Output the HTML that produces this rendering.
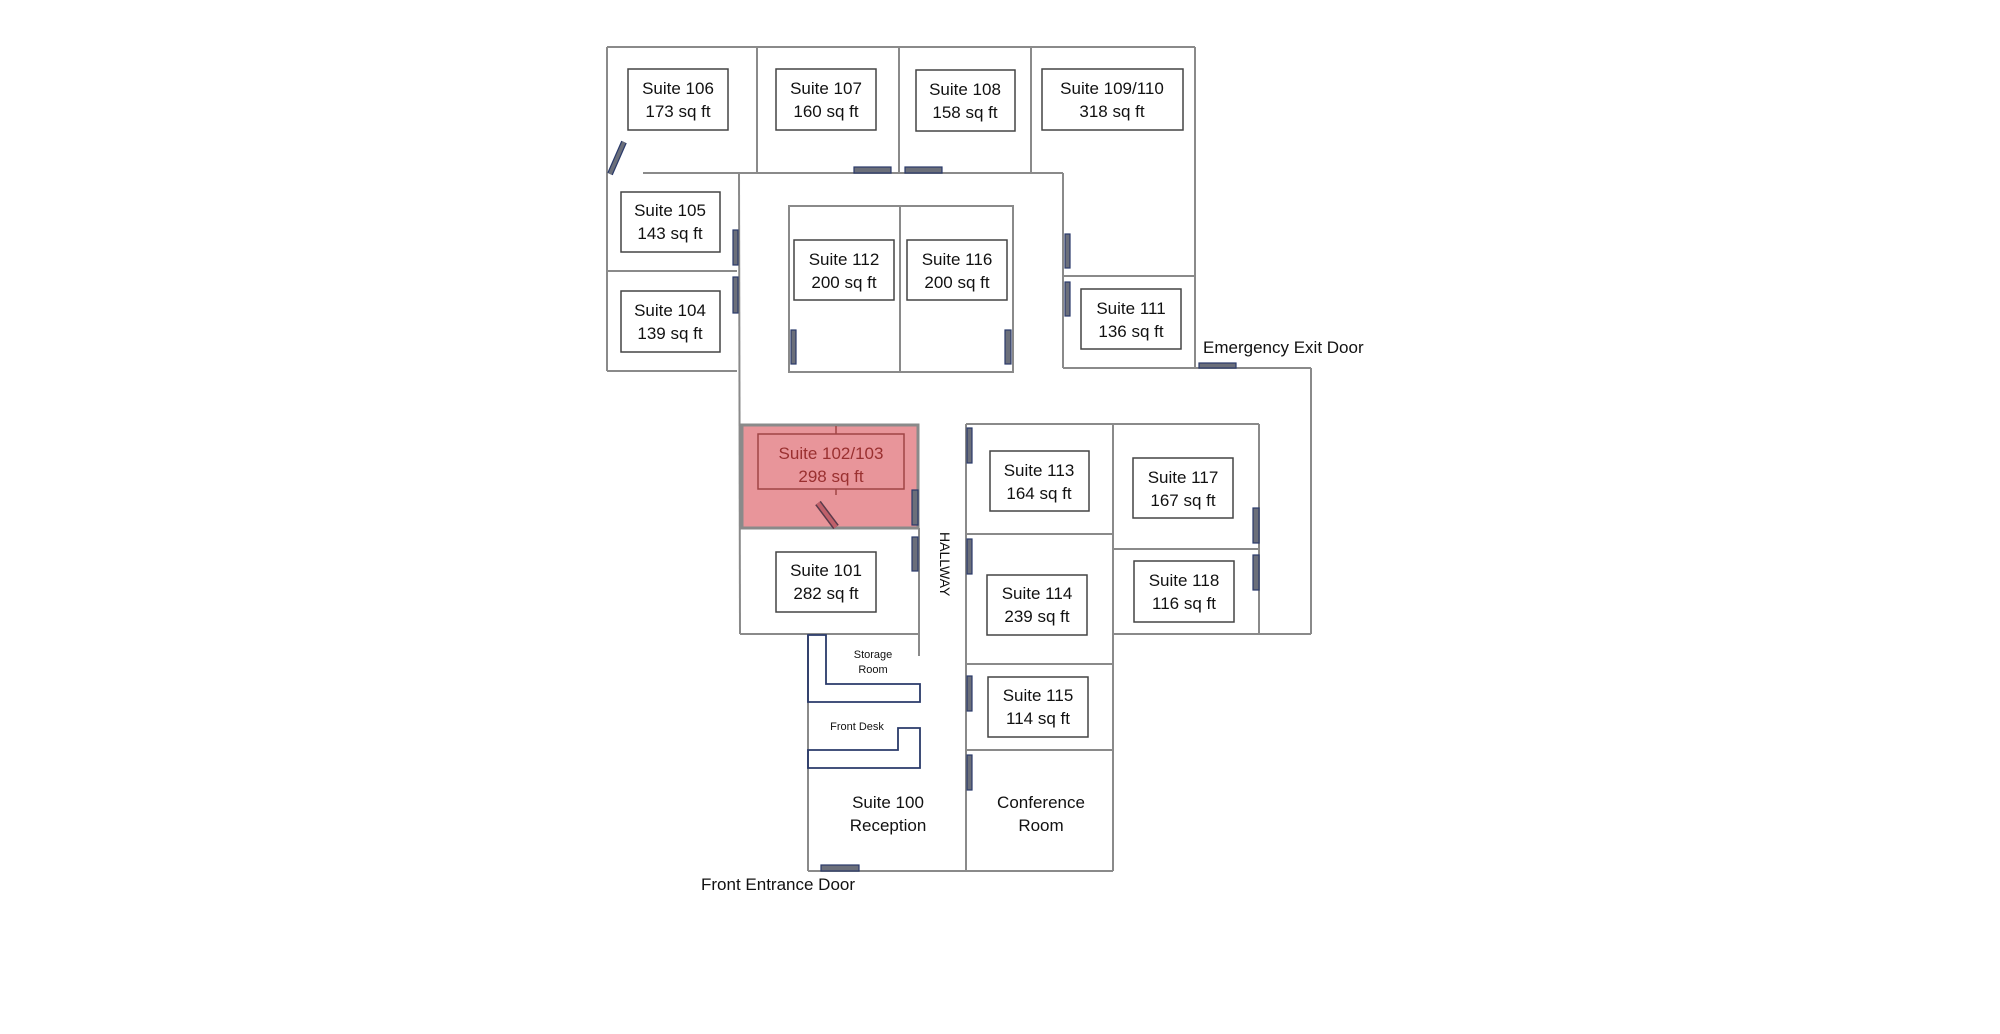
<!DOCTYPE html>
<html><head><meta charset="utf-8"><style>
html,body{margin:0;padding:0;background:#fff;}
svg{display:block}
text{font-family:"Liberation Sans",sans-serif;fill:#111;}
</style></head><body>
<svg width="2000" height="1034" viewBox="0 0 2000 1034" xmlns="http://www.w3.org/2000/svg">
<g stroke="#8a8a8a" stroke-width="2" fill="none">
<line x1="607" y1="47" x2="1195" y2="47"/>
<line x1="607" y1="47" x2="607" y2="371"/>
<line x1="1195" y1="47" x2="1195" y2="368"/>
<line x1="757" y1="47" x2="757" y2="173"/>
<line x1="899" y1="47" x2="899" y2="173"/>
<line x1="1031" y1="47" x2="1031" y2="173"/>
<line x1="643" y1="173" x2="1063" y2="173"/>
<line x1="607" y1="271" x2="737" y2="271"/>
<line x1="607" y1="371" x2="737" y2="371"/>
<line x1="739" y1="173" x2="740" y2="634"/>
<line x1="1063" y1="173" x2="1063" y2="368"/>
<rect x="789" y="206" width="224" height="166"/>
<line x1="900" y1="206" x2="900" y2="372"/>
<line x1="1063" y1="276" x2="1195" y2="276"/>
<line x1="1063" y1="368" x2="1311" y2="368"/>
<line x1="1311" y1="368" x2="1311" y2="634"/>
<line x1="966" y1="424" x2="1259" y2="424"/>
<line x1="1259" y1="424" x2="1259" y2="634"/>
<line x1="1113" y1="424" x2="1113" y2="871"/>
<line x1="1113" y1="549" x2="1259" y2="549"/>
<line x1="1113" y1="634" x2="1311" y2="634"/>
<line x1="966" y1="424" x2="966" y2="871"/>
<line x1="966" y1="534" x2="1113" y2="534"/>
<line x1="966" y1="664" x2="1113" y2="664"/>
<line x1="966" y1="750" x2="1113" y2="750"/>
<line x1="740" y1="634" x2="919" y2="634"/>
<line x1="919" y1="528" x2="919" y2="656"/>
<line x1="808" y1="634" x2="808" y2="871"/>
<line x1="808" y1="871" x2="1113" y2="871"/>
</g>
<rect x="742" y="425" width="176" height="103" fill="#e8959a" stroke="#8a8a8a" stroke-width="3"/>
<rect x="758" y="434" width="146" height="55" fill="none" stroke="#a04545" stroke-width="1.5"/>
<line x1="836" y1="426" x2="836" y2="434" stroke="#a04545" stroke-width="1.5"/>
<line x1="836" y1="489" x2="836" y2="495" stroke="#a04545" stroke-width="1.5"/>
<line x1="818" y1="503" x2="836" y2="527" stroke="#5a3a4a" stroke-width="7"/>
<line x1="818" y1="503" x2="836" y2="527" stroke="#c0606a" stroke-width="4"/>
<g stroke="#2a3a6a" stroke-width="1.8" fill="none">
<polygon points="808,635 826,635 826,684 920,684 920,702 808,702"/>
<polygon points="808,750 898,750 898,728 920,728 920,768 808,768"/>
</g>
<g stroke="#444" stroke-width="1.5" fill="#fff">
<rect x="628" y="69" width="100" height="61"/>
<rect x="776" y="69" width="100" height="61"/>
<rect x="916" y="70" width="99" height="61"/>
<rect x="1042" y="69" width="141" height="61"/>
<rect x="621" y="192" width="99" height="60"/>
<rect x="621" y="291" width="99" height="61"/>
<rect x="794" y="240" width="100" height="60"/>
<rect x="907" y="240" width="100" height="60"/>
<rect x="1081" y="289" width="100" height="60"/>
<rect x="990" y="451" width="99" height="60"/>
<rect x="1133" y="458" width="100" height="60"/>
<rect x="1134" y="561" width="100" height="61"/>
<rect x="987" y="575" width="100" height="60"/>
<rect x="988" y="677" width="100" height="60"/>
<rect x="776" y="552" width="100" height="60"/>
</g>
<g fill="#6b6f7a" stroke="#2a3a6a" stroke-width="1.2">
<rect x="854" y="167" width="37" height="6"/>
<rect x="905" y="167" width="37" height="6"/>
<rect x="733" y="230" width="5" height="35"/>
<rect x="733" y="277" width="5" height="36"/>
<rect x="791" y="330" width="5" height="34"/>
<rect x="1005" y="330" width="6" height="34"/>
<rect x="1065" y="234" width="5" height="34"/>
<rect x="1065" y="282" width="5" height="34"/>
<rect x="1199" y="363" width="37" height="5"/>
<rect x="1253" y="508" width="6" height="35"/>
<rect x="1253" y="555" width="6" height="35"/>
<rect x="912" y="490" width="6" height="35"/>
<rect x="912" y="537" width="6" height="34"/>
<rect x="967" y="428" width="5" height="35"/>
<rect x="967" y="539" width="5" height="35"/>
<rect x="967" y="676" width="5" height="35"/>
<rect x="967" y="755" width="5" height="35"/>
<rect x="821" y="865" width="38" height="6"/>
</g>
<line x1="610" y1="174" x2="624" y2="142" stroke="#2a3a6a" stroke-width="6"/>
<line x1="610" y1="174" x2="624" y2="142" stroke="#6b6f7a" stroke-width="3.5"/>
<g font-size="17" text-anchor="middle">
<text x="678" y="94">Suite 106</text><text x="678" y="117">173 sq ft</text>
<text x="826" y="94">Suite 107</text><text x="826" y="117">160 sq ft</text>
<text x="965" y="95">Suite 108</text><text x="965" y="118">158 sq ft</text>
<text x="1112" y="94">Suite 109/110</text><text x="1112" y="117">318 sq ft</text>
<text x="670" y="216">Suite 105</text><text x="670" y="239">143 sq ft</text>
<text x="670" y="316">Suite 104</text><text x="670" y="339">139 sq ft</text>
<text x="844" y="265">Suite 112</text><text x="844" y="288">200 sq ft</text>
<text x="957" y="265">Suite 116</text><text x="957" y="288">200 sq ft</text>
<text x="1131" y="314">Suite 111</text><text x="1131" y="337">136 sq ft</text>
<text x="1039" y="476">Suite 113</text><text x="1039" y="499">164 sq ft</text>
<text x="1183" y="483">Suite 117</text><text x="1183" y="506">167 sq ft</text>
<text x="1184" y="586">Suite 118</text><text x="1184" y="609">116 sq ft</text>
<text x="1037" y="599">Suite 114</text><text x="1037" y="622">239 sq ft</text>
<text x="1038" y="701">Suite 115</text><text x="1038" y="724">114 sq ft</text>
<text x="826" y="576">Suite 101</text><text x="826" y="599">282 sq ft</text>
<text x="831" y="459" style="fill:#9a3030">Suite 102/103</text><text x="831" y="482" style="fill:#9a3030">298 sq ft</text>
<text x="888" y="808">Suite 100</text><text x="888" y="831">Reception</text>
<text x="1041" y="808">Conference</text><text x="1041" y="831">Room</text>
</g>
<text x="1203" y="353" font-size="17">Emergency Exit Door</text>
<text x="701" y="890" font-size="17">Front Entrance Door</text>
<g font-size="11" text-anchor="middle">
<text x="873" y="658">Storage</text><text x="873" y="673">Room</text>
<text x="857" y="730">Front Desk</text>
</g>
<text x="0" y="0" font-size="14" transform="translate(940,532) rotate(90)">HALLWAY</text>
</svg>
</body></html>
